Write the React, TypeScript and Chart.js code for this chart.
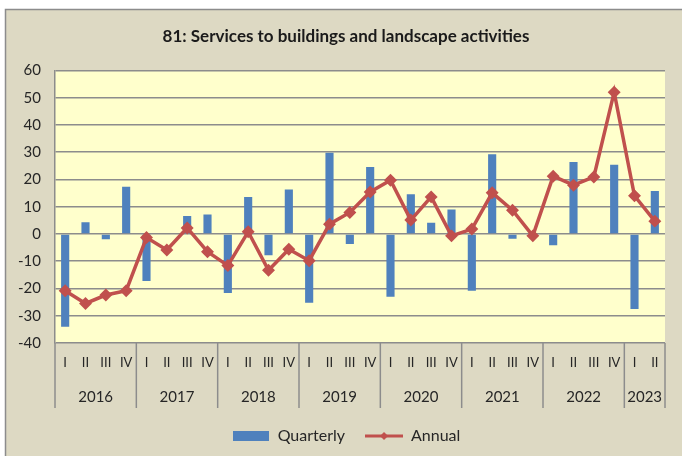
import React, { useEffect, useRef } from "react";
import { Chart, registerables } from "chart.js";

Chart.register(...registerables);

const quarterLabels = [
  "I", "II", "III", "IV",
  "I", "II", "III", "IV",
  "I", "II", "III", "IV",
  "I", "II", "III", "IV",
  "I", "II", "III", "IV",
  "I", "II", "III", "IV",
  "I", "II", "III", "IV",
  "I", "II",
];
const years = ["2016", "2017", "2018", "2019", "2020", "2021", "2022", "2023"];
const quartersPerYear = [4, 4, 4, 4, 4, 4, 4, 2];

const quarterly = [
  -34, 4.3, -1.9, 17.3,
  -17.3, 0, 6.6, 7.1,
  -21.7, 13.6, -7.8, 16.3,
  -25.2, 29.8, -3.7, 24.6,
  -23, 14.6, 4.1, 9.0,
  -20.8, 29.2, -1.8, 0,
  -4.1, 26.4, 0, 25.4,
  -27.5, 15.8,
];
const annual = [
  -20.8, -25.5, -22.4, -20.8,
  -1.3, -5.9, 2.2, -6.5,
  -11.6, 0.8, -13.3, -5.6,
  -9.8, 3.6, 7.9, 15.4,
  19.7, 5.1, 13.6, -0.7,
  1.8, 15.1, 8.7, -0.7,
  21.2, 17.9, 20.9, 52,
  14, 4.7,
];

const yMin = -40;
const yMax = 60;
const yStep = 10;

const TITLE = "81: Services to buildings and landscape activities";
const BLUE = "#4f81bd";
const RED = "#c0504d";
const GRID = "#8c8c8c";
const TEXT = "#262626";
const OUTER = "#ddd9c3";
const PLOT = "#ffffcc";
const FONT = "Lato, 'Open Sans', sans-serif";

export default function App() {
  const ref = useRef<HTMLCanvasElement>(null);

  useEffect(() => {
    const canvas = ref.current!;

    const boxImg = document.createElement("canvas");
    boxImg.width = 36;
    boxImg.height = 10;
    {
      const c = boxImg.getContext("2d")!;
      c.fillStyle = BLUE;
      c.fillRect(0, 0, 36, 10);
    }
    const lineImg = document.createElement("canvas");
    lineImg.width = 38;
    lineImg.height = 10;
    {
      const c = lineImg.getContext("2d")!;
      c.strokeStyle = RED;
      c.lineWidth = 3;
      c.beginPath();
      c.moveTo(0, 5);
      c.lineTo(38, 5);
      c.stroke();
      c.fillStyle = RED;
      c.beginPath();
      c.moveTo(19, 1);
      c.lineTo(23, 5);
      c.lineTo(19, 9);
      c.lineTo(15, 5);
      c.closePath();
      c.fill();
    }

    const backgroundPlugin = {
      id: "bgPlugin",
      beforeDraw(chart: any) {
        const { ctx, chartArea, width, height } = chart;
        ctx.save();
        ctx.fillStyle = "#ffffff";
        ctx.fillRect(0, 0, width, height);
        ctx.fillStyle = OUTER;
        ctx.fillRect(5, 9, width - 5, height - 9);
        ctx.strokeStyle = GRID;
        ctx.lineWidth = 1.5;
        ctx.beginPath();
        ctx.moveTo(5.5, height);
        ctx.lineTo(5.5, 9.5);
        ctx.lineTo(width, 9.5);
        ctx.stroke();
        ctx.fillStyle = PLOT;
        ctx.fillRect(
          chartArea.left,
          chartArea.top,
          chartArea.right - chartArea.left,
          chartArea.bottom - chartArea.top
        );
        ctx.restore();
      },
    };

    const yearPlugin = {
      id: "yearPlugin",
      afterDraw(chart: any) {
        const { ctx, chartArea } = chart;
        const xs = chart.scales.x;
        const step = xs.getPixelForValue(1) - xs.getPixelForValue(0);
        const y0 = chartArea.bottom;
        const y1 = chartArea.bottom + 65;
        ctx.save();
        ctx.strokeStyle = GRID;
        ctx.lineWidth = 1.5;
        ctx.fillStyle = TEXT;
        ctx.font = "15px " + FONT;
        ctx.textAlign = "center";
        ctx.textBaseline = "middle";
        let idx = 0;
        let right = 0;
        years.forEach((yr, g) => {
          const n = quartersPerYear[g];
          const left = xs.getPixelForValue(idx) - step / 2;
          right = xs.getPixelForValue(idx + n - 1) + step / 2;
          ctx.beginPath();
          ctx.moveTo(left, y0);
          ctx.lineTo(left, y1);
          ctx.stroke();
          ctx.fillText(yr, (left + right) / 2, chartArea.bottom + 54);
          idx += n;
        });
        ctx.beginPath();
        ctx.moveTo(right, y0);
        ctx.lineTo(right, y1);
        ctx.stroke();
        ctx.restore();
      },
    };

    const chart = new Chart(canvas, {
      type: "bar",
      data: {
        labels: quarterLabels,
        datasets: [
          {
            type: "bar",
            label: "Quarterly",
            data: quarterly,
            backgroundColor: BLUE,
            barPercentage: 0.4,
            categoryPercentage: 1,
            order: 2,
          } as any,
          {
            type: "line",
            label: "Annual",
            data: annual,
            borderColor: RED,
            borderWidth: 3.5,
            pointStyle: "rectRot",
            pointRadius: 4,
            pointBackgroundColor: RED,
            pointBorderColor: RED,
            tension: 0,
            order: 1,
          } as any,
        ],
      },
      options: {
        responsive: false,
        animation: false,
        layout: { padding: { left: 5, right: -5, top: 0, bottom: 2 } },
        plugins: {
          title: {
            display: true,
            text: TITLE,
            color: "#1a1a1a",
            font: { family: FONT, size: 17, weight: "bold" },
            padding: { top: 26, bottom: 24 },
          },
          legend: {
            position: "bottom",
            labels: {
              usePointStyle: true,
              pointStyleWidth: 38,
              boxHeight: 10,
              padding: 20,
              color: TEXT,
              font: { family: FONT, size: 16 },
              generateLabels: () => [
                {
                  text: "Quarterly",
                  pointStyle: boxImg,
                  fillStyle: BLUE,
                  strokeStyle: BLUE,
                  lineWidth: 0,
                  hidden: false,
                  datasetIndex: 0,
                  fontColor: TEXT,
                } as any,
                {
                  text: "Annual",
                  pointStyle: lineImg,
                  fillStyle: RED,
                  strokeStyle: RED,
                  lineWidth: 0,
                  hidden: false,
                  datasetIndex: 1,
                  fontColor: TEXT,
                } as any,
              ],
            },
            onClick: () => {},
          },
          tooltip: { enabled: false },
        },
        scales: {
          x: {
            grid: { display: false, drawTicks: false, tickLength: 0 },
            border: { display: false },
            ticks: {
              color: TEXT,
              font: { family: FONT, size: 13 },
              padding: 12,
              autoSkip: false,
              maxRotation: 0,
            },
            afterFit: (scale: any) => {
              scale.height = 65;
            },
          },
          y: {
            min: yMin,
            max: yMax,
            ticks: {
              stepSize: yStep,
              color: TEXT,
              font: { family: FONT, size: 15 },
              padding: 14,
            },
            grid: { color: GRID, lineWidth: 1.5, drawTicks: false },
            border: { color: GRID, width: 1.5 },
            afterFit: (scale: any) => {
              scale.width = 50;
            },
          },
          yRightSpacer: {
            type: "linear",
            position: "right",
            min: yMin,
            max: yMax,
            ticks: { display: false },
            grid: { display: false, drawTicks: false },
            border: { display: false },
            afterFit: (scale: any) => {
              scale.width = 22;
            },
          },
        },
      },
      plugins: [backgroundPlugin, yearPlugin],
    });

    return () => chart.destroy();
  }, []);

  return (
    <div style={{ position: "fixed", left: 0, top: 0, width: 682, height: 456 }}>
      <canvas ref={ref} width={682} height={456} style={{ display: "block" }} />
    </div>
  );
}
